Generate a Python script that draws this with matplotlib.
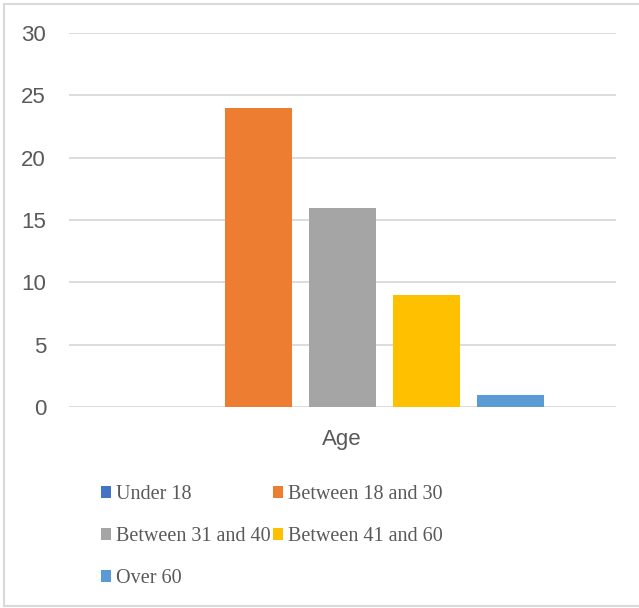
import matplotlib
matplotlib.use("Agg")
import matplotlib.pyplot as plt
from matplotlib.lines import Line2D
from matplotlib.patches import Patch

# Data
category = "Age"
series_names = ["Under 18", "Between 18 and 30", "Between 31 and 40",
                "Between 41 and 60", "Over 60"]
series_values = [0, 24, 16, 9, 1]
series_colors = ["#4472C4", "#ED7D31", "#A5A5A5", "#FFC000", "#5B9BD5"]
y_ticks = [0, 5, 10, 15, 20, 25, 30]

W, H = 639, 608
fig = plt.figure(figsize=(W / 100, H / 100), dpi=100)
fig.patch.set_facecolor("white")

ax = fig.add_axes([69 / W, 1 - 407 / H, (616 - 69) / W, (407 - 33) / H])

step = 84 / 547
width = 67 / 547
n = len(series_values)
for i, (name, val, col) in enumerate(zip(series_names, series_values, series_colors)):
    ax.bar((i - (n - 1) / 2) * step, val, width=width, color=col, label=name,
           zorder=3)

ax.set_xlim(-0.5, 0.5)
ax.set_ylim(0, 30)
ax.set_yticks(y_ticks)
ax.set_yticklabels([str(t) for t in y_ticks], fontsize=16, color="#595959",
                   family="Liberation Sans")
ax.tick_params(axis="y", length=0, pad=16.5)
ax.set_xticks([])
ax.yaxis.grid(True, color="#D9D9D9", linewidth=1.3, zorder=0)
ax.set_axisbelow(True)
for s in ax.spines.values():
    s.set_visible(False)

fig.text(342 / W, 1 - 439 / H, category, ha="center", va="center",
         fontsize=16, color="#595959", family="Liberation Sans")

# Legend in two columns, rows read left to right
order = [0, 2, 4, 1, 3]
handles = [Patch(facecolor=series_colors[i], edgecolor="none") for i in order]
labels = [series_names[i] for i in order]
leg = fig.legend(handles, labels, ncol=2, loc="upper left",
                 bbox_to_anchor=(101 / W, 1 - 485 / H),
                 frameon=False, prop={"family": "Liberation Serif", "size": 14.5},
                 handlelength=0.5, handleheight=0.5, handletextpad=0.25,
                 columnspacing=0.1, labelspacing=1.14, borderpad=0,
                 borderaxespad=0)
for t in leg.get_texts():
    t.set_color("#595959")

# Outer frame (top, left, bottom)
fc = "#D9D9D9"
fig.add_artist(Line2D([4 / W, 1], [1 - 4 / H, 1 - 4 / H], color=fc, lw=1.5,
                      transform=fig.transFigure))
fig.add_artist(Line2D([4 / W, 4 / W], [1 - 4 / H, 1 - 606 / H], color=fc, lw=1.5,
                      transform=fig.transFigure))
fig.add_artist(Line2D([4 / W, 1], [1 - 606 / H, 1 - 606 / H], color=fc, lw=1.5,
                      transform=fig.transFigure))

fig.savefig("out.png", dpi=100)
